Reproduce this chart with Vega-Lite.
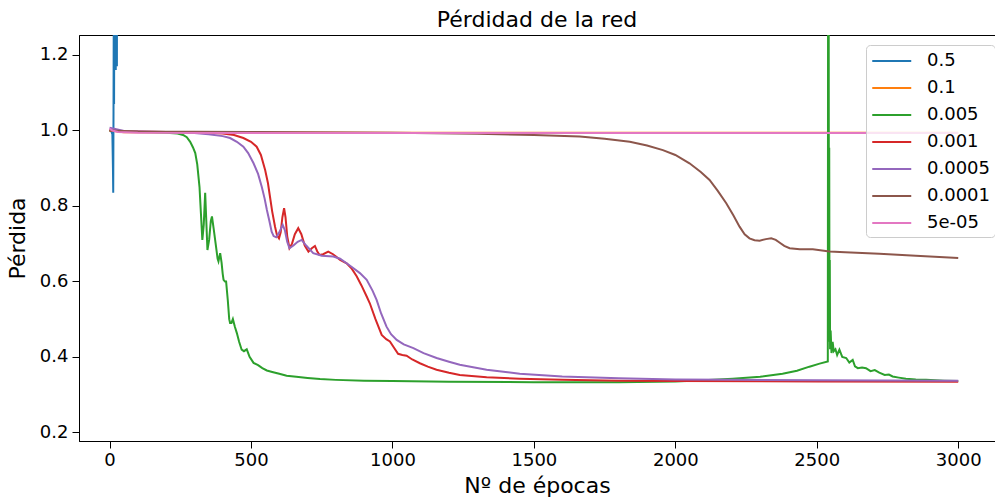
{
  "$schema": "https://vega.github.io/schema/vega-lite/v6.json",
  "width": 916,
  "height": 406,
  "autosize": {"type": "none"},
  "padding": {"left": 79, "top": 35, "right": 0, "bottom": 59},
  "background": "white",
  "config": {
    "font": "DejaVu Sans",
    "view": {"stroke": "black", "strokeWidth": 1},
    "axis": {"grid": false, "domainColor": "black", "tickColor": "black", "labelColor": "black", "titleColor": "black", "labelFont": "DejaVu Sans", "titleFont": "DejaVu Sans", "labelFontSize": 18, "titleFontSize": 22, "titleFontWeight": "normal", "tickSize": 7, "labelPadding": 3},
    "title": {"font": "DejaVu Sans", "fontSize": 22, "fontWeight": "normal", "color": "black", "offset": 3},
    "legend": {"labelFont": "DejaVu Sans", "labelFontSize": 18, "labelColor": "black"}
  },
  "title": {"text": "Pérdidad de la red", "anchor": "middle", "frame": "group"},
  "data": {"values": [
    {"lr": "0.5", "epoch": 0, "loss": 1.0},
    {"lr": "0.5", "epoch": 5, "loss": 1.0},
    {"lr": "0.5", "epoch": 10, "loss": 0.99},
    {"lr": "0.5", "epoch": 12, "loss": 0.9},
    {"lr": "0.5", "epoch": 13, "loss": 0.835},
    {"lr": "0.5", "epoch": 14, "loss": 1.05},
    {"lr": "0.5", "epoch": 15, "loss": 1.35},
    {"lr": "0.5", "epoch": 16, "loss": 1.07},
    {"lr": "0.5", "epoch": 17, "loss": 1.45},
    {"lr": "0.5", "epoch": 18, "loss": 1.2},
    {"lr": "0.5", "epoch": 19, "loss": 1.6},
    {"lr": "0.5", "epoch": 20, "loss": 1.3},
    {"lr": "0.5", "epoch": 21, "loss": 1.8},
    {"lr": "0.5", "epoch": 22, "loss": 1.16},
    {"lr": "0.5", "epoch": 23, "loss": 1.9},
    {"lr": "0.5", "epoch": 25, "loss": 1.5},
    {"lr": "0.5", "epoch": 26, "loss": 1.17},
    {"lr": "0.5", "epoch": 27, "loss": 2.0},
    {"lr": "0.5", "epoch": 28, "loss": 1.6},
    {"lr": "0.5", "epoch": 29, "loss": 2.5},
    {"lr": "0.5", "epoch": 30, "loss": 3.0},

    {"lr": "0.1", "epoch": 0, "loss": 1.0},
    {"lr": "0.1", "epoch": 50, "loss": 0.995},
    {"lr": "0.1", "epoch": 1000, "loss": 0.994},
    {"lr": "0.1", "epoch": 3000, "loss": 0.994},

    {"lr": "0.005", "epoch": 0, "loss": 1.0},
    {"lr": "0.005", "epoch": 50, "loss": 0.997},
    {"lr": "0.005", "epoch": 100, "loss": 0.996},
    {"lr": "0.005", "epoch": 150, "loss": 0.995},
    {"lr": "0.005", "epoch": 200, "loss": 0.994},
    {"lr": "0.005", "epoch": 240, "loss": 0.992},
    {"lr": "0.005", "epoch": 260, "loss": 0.988},
    {"lr": "0.005", "epoch": 273, "loss": 0.982},
    {"lr": "0.005", "epoch": 285, "loss": 0.97},
    {"lr": "0.005", "epoch": 295, "loss": 0.955},
    {"lr": "0.005", "epoch": 303, "loss": 0.94},
    {"lr": "0.005", "epoch": 310, "loss": 0.91},
    {"lr": "0.005", "epoch": 318, "loss": 0.85},
    {"lr": "0.005", "epoch": 323, "loss": 0.78},
    {"lr": "0.005", "epoch": 328, "loss": 0.71},
    {"lr": "0.005", "epoch": 333, "loss": 0.75},
    {"lr": "0.005", "epoch": 338, "loss": 0.835},
    {"lr": "0.005", "epoch": 342, "loss": 0.76},
    {"lr": "0.005", "epoch": 346, "loss": 0.683},
    {"lr": "0.005", "epoch": 352, "loss": 0.71},
    {"lr": "0.005", "epoch": 358, "loss": 0.76},
    {"lr": "0.005", "epoch": 362, "loss": 0.772},
    {"lr": "0.005", "epoch": 368, "loss": 0.74},
    {"lr": "0.005", "epoch": 375, "loss": 0.70},
    {"lr": "0.005", "epoch": 382, "loss": 0.66},
    {"lr": "0.005", "epoch": 385, "loss": 0.653},
    {"lr": "0.005", "epoch": 391, "loss": 0.675},
    {"lr": "0.005", "epoch": 396, "loss": 0.65},
    {"lr": "0.005", "epoch": 400, "loss": 0.62},
    {"lr": "0.005", "epoch": 403, "loss": 0.604},
    {"lr": "0.005", "epoch": 408, "loss": 0.60},
    {"lr": "0.005", "epoch": 412, "loss": 0.60},
    {"lr": "0.005", "epoch": 418, "loss": 0.55},
    {"lr": "0.005", "epoch": 423, "loss": 0.50},
    {"lr": "0.005", "epoch": 426, "loss": 0.49},
    {"lr": "0.005", "epoch": 431, "loss": 0.49},
    {"lr": "0.005", "epoch": 436, "loss": 0.50},
    {"lr": "0.005", "epoch": 443, "loss": 0.48},
    {"lr": "0.005", "epoch": 450, "loss": 0.463},
    {"lr": "0.005", "epoch": 458, "loss": 0.44},
    {"lr": "0.005", "epoch": 467, "loss": 0.419},
    {"lr": "0.005", "epoch": 475, "loss": 0.415},
    {"lr": "0.005", "epoch": 485, "loss": 0.42},
    {"lr": "0.005", "epoch": 495, "loss": 0.40},
    {"lr": "0.005", "epoch": 509, "loss": 0.384},
    {"lr": "0.005", "epoch": 525, "loss": 0.378},
    {"lr": "0.005", "epoch": 540, "loss": 0.37},
    {"lr": "0.005", "epoch": 556, "loss": 0.364},
    {"lr": "0.005", "epoch": 575, "loss": 0.36},
    {"lr": "0.005", "epoch": 600, "loss": 0.355},
    {"lr": "0.005", "epoch": 626, "loss": 0.35},
    {"lr": "0.005", "epoch": 660, "loss": 0.347},
    {"lr": "0.005", "epoch": 700, "loss": 0.344},
    {"lr": "0.005", "epoch": 744, "loss": 0.341},
    {"lr": "0.005", "epoch": 800, "loss": 0.339},
    {"lr": "0.005", "epoch": 900, "loss": 0.337},
    {"lr": "0.005", "epoch": 1000, "loss": 0.336},
    {"lr": "0.005", "epoch": 1200, "loss": 0.334},
    {"lr": "0.005", "epoch": 1500, "loss": 0.333},
    {"lr": "0.005", "epoch": 1800, "loss": 0.333},
    {"lr": "0.005", "epoch": 2000, "loss": 0.335},
    {"lr": "0.005", "epoch": 2100, "loss": 0.338},
    {"lr": "0.005", "epoch": 2203, "loss": 0.342},
    {"lr": "0.005", "epoch": 2300, "loss": 0.347},
    {"lr": "0.005", "epoch": 2379, "loss": 0.355},
    {"lr": "0.005", "epoch": 2430, "loss": 0.363},
    {"lr": "0.005", "epoch": 2474, "loss": 0.374},
    {"lr": "0.005", "epoch": 2510, "loss": 0.382},
    {"lr": "0.005", "epoch": 2539, "loss": 0.388},
    {"lr": "0.005", "epoch": 2541, "loss": 2.5},
    {"lr": "0.005", "epoch": 2543, "loss": 0.45},
    {"lr": "0.005", "epoch": 2544, "loss": 0.954},
    {"lr": "0.005", "epoch": 2545, "loss": 0.44},
    {"lr": "0.005", "epoch": 2546, "loss": 0.657},
    {"lr": "0.005", "epoch": 2547, "loss": 0.42},
    {"lr": "0.005", "epoch": 2549, "loss": 0.47},
    {"lr": "0.005", "epoch": 2552, "loss": 0.41},
    {"lr": "0.005", "epoch": 2556, "loss": 0.44},
    {"lr": "0.005", "epoch": 2560, "loss": 0.415},
    {"lr": "0.005", "epoch": 2566, "loss": 0.42},
    {"lr": "0.005", "epoch": 2572, "loss": 0.405},
    {"lr": "0.005", "epoch": 2580, "loss": 0.419},
    {"lr": "0.005", "epoch": 2590, "loss": 0.40},
    {"lr": "0.005", "epoch": 2604, "loss": 0.397},
    {"lr": "0.005", "epoch": 2615, "loss": 0.385},
    {"lr": "0.005", "epoch": 2627, "loss": 0.392},
    {"lr": "0.005", "epoch": 2635, "loss": 0.375},
    {"lr": "0.005", "epoch": 2645, "loss": 0.37},
    {"lr": "0.005", "epoch": 2660, "loss": 0.372},
    {"lr": "0.005", "epoch": 2674, "loss": 0.37},
    {"lr": "0.005", "epoch": 2690, "loss": 0.362},
    {"lr": "0.005", "epoch": 2705, "loss": 0.365},
    {"lr": "0.005", "epoch": 2721, "loss": 0.358},
    {"lr": "0.005", "epoch": 2740, "loss": 0.352},
    {"lr": "0.005", "epoch": 2755, "loss": 0.353},
    {"lr": "0.005", "epoch": 2768, "loss": 0.348},
    {"lr": "0.005", "epoch": 2790, "loss": 0.345},
    {"lr": "0.005", "epoch": 2815, "loss": 0.342},
    {"lr": "0.005", "epoch": 2850, "loss": 0.34},
    {"lr": "0.005", "epoch": 2886, "loss": 0.339},
    {"lr": "0.005", "epoch": 2950, "loss": 0.337},
    {"lr": "0.005", "epoch": 3000, "loss": 0.336},

    {"lr": "0.001", "epoch": 0, "loss": 1.0},
    {"lr": "0.001", "epoch": 50, "loss": 0.998},
    {"lr": "0.001", "epoch": 100, "loss": 0.997},
    {"lr": "0.001", "epoch": 200, "loss": 0.996},
    {"lr": "0.001", "epoch": 300, "loss": 0.995},
    {"lr": "0.001", "epoch": 400, "loss": 0.992},
    {"lr": "0.001", "epoch": 440, "loss": 0.988},
    {"lr": "0.001", "epoch": 473, "loss": 0.98},
    {"lr": "0.001", "epoch": 500, "loss": 0.97},
    {"lr": "0.001", "epoch": 520, "loss": 0.957},
    {"lr": "0.001", "epoch": 535, "loss": 0.935},
    {"lr": "0.001", "epoch": 550, "loss": 0.895},
    {"lr": "0.001", "epoch": 560, "loss": 0.86},
    {"lr": "0.001", "epoch": 567, "loss": 0.825},
    {"lr": "0.001", "epoch": 575, "loss": 0.785},
    {"lr": "0.001", "epoch": 585, "loss": 0.745},
    {"lr": "0.001", "epoch": 592, "loss": 0.722},
    {"lr": "0.001", "epoch": 599, "loss": 0.714},
    {"lr": "0.001", "epoch": 605, "loss": 0.73},
    {"lr": "0.001", "epoch": 611, "loss": 0.77},
    {"lr": "0.001", "epoch": 617, "loss": 0.794},
    {"lr": "0.001", "epoch": 622, "loss": 0.77},
    {"lr": "0.001", "epoch": 628, "loss": 0.72},
    {"lr": "0.001", "epoch": 636, "loss": 0.688},
    {"lr": "0.001", "epoch": 645, "loss": 0.70},
    {"lr": "0.001", "epoch": 655, "loss": 0.725},
    {"lr": "0.001", "epoch": 667, "loss": 0.741},
    {"lr": "0.001", "epoch": 678, "loss": 0.725},
    {"lr": "0.001", "epoch": 690, "loss": 0.695},
    {"lr": "0.001", "epoch": 703, "loss": 0.679},
    {"lr": "0.001", "epoch": 715, "loss": 0.688},
    {"lr": "0.001", "epoch": 726, "loss": 0.694},
    {"lr": "0.001", "epoch": 734, "loss": 0.68},
    {"lr": "0.001", "epoch": 742, "loss": 0.67},
    {"lr": "0.001", "epoch": 755, "loss": 0.672},
    {"lr": "0.001", "epoch": 773, "loss": 0.679},
    {"lr": "0.001", "epoch": 790, "loss": 0.672},
    {"lr": "0.001", "epoch": 815, "loss": 0.657},
    {"lr": "0.001", "epoch": 838, "loss": 0.648},
    {"lr": "0.001", "epoch": 855, "loss": 0.635},
    {"lr": "0.001", "epoch": 874, "loss": 0.613},
    {"lr": "0.001", "epoch": 890, "loss": 0.59},
    {"lr": "0.001", "epoch": 909, "loss": 0.56},
    {"lr": "0.001", "epoch": 920, "loss": 0.542},
    {"lr": "0.001", "epoch": 940, "loss": 0.50},
    {"lr": "0.001", "epoch": 962, "loss": 0.458},
    {"lr": "0.001", "epoch": 978, "loss": 0.447},
    {"lr": "0.001", "epoch": 991, "loss": 0.441},
    {"lr": "0.001", "epoch": 1005, "loss": 0.425},
    {"lr": "0.001", "epoch": 1020, "loss": 0.408},
    {"lr": "0.001", "epoch": 1035, "loss": 0.405},
    {"lr": "0.001", "epoch": 1050, "loss": 0.403},
    {"lr": "0.001", "epoch": 1070, "loss": 0.393},
    {"lr": "0.001", "epoch": 1097, "loss": 0.383},
    {"lr": "0.001", "epoch": 1125, "loss": 0.374},
    {"lr": "0.001", "epoch": 1156, "loss": 0.366},
    {"lr": "0.001", "epoch": 1200, "loss": 0.358},
    {"lr": "0.001", "epoch": 1238, "loss": 0.352},
    {"lr": "0.001", "epoch": 1333, "loss": 0.346},
    {"lr": "0.001", "epoch": 1450, "loss": 0.342},
    {"lr": "0.001", "epoch": 1600, "loss": 0.339},
    {"lr": "0.001", "epoch": 1800, "loss": 0.337},
    {"lr": "0.001", "epoch": 2000, "loss": 0.336},
    {"lr": "0.001", "epoch": 2500, "loss": 0.335},
    {"lr": "0.001", "epoch": 3000, "loss": 0.334},

    {"lr": "0.0005", "epoch": 0, "loss": 1.007},
    {"lr": "0.0005", "epoch": 20, "loss": 1.004},
    {"lr": "0.0005", "epoch": 55, "loss": 0.998},
    {"lr": "0.0005", "epoch": 100, "loss": 0.997},
    {"lr": "0.0005", "epoch": 200, "loss": 0.996},
    {"lr": "0.0005", "epoch": 300, "loss": 0.993},
    {"lr": "0.0005", "epoch": 350, "loss": 0.99},
    {"lr": "0.0005", "epoch": 400, "loss": 0.985},
    {"lr": "0.0005", "epoch": 426, "loss": 0.98},
    {"lr": "0.0005", "epoch": 450, "loss": 0.97},
    {"lr": "0.0005", "epoch": 473, "loss": 0.957},
    {"lr": "0.0005", "epoch": 490, "loss": 0.94},
    {"lr": "0.0005", "epoch": 509, "loss": 0.913},
    {"lr": "0.0005", "epoch": 525, "loss": 0.885},
    {"lr": "0.0005", "epoch": 538, "loss": 0.851},
    {"lr": "0.0005", "epoch": 548, "loss": 0.82},
    {"lr": "0.0005", "epoch": 556, "loss": 0.79},
    {"lr": "0.0005", "epoch": 565, "loss": 0.76},
    {"lr": "0.0005", "epoch": 573, "loss": 0.732},
    {"lr": "0.0005", "epoch": 580, "loss": 0.72},
    {"lr": "0.0005", "epoch": 589, "loss": 0.717},
    {"lr": "0.0005", "epoch": 600, "loss": 0.73},
    {"lr": "0.0005", "epoch": 612, "loss": 0.75},
    {"lr": "0.0005", "epoch": 620, "loss": 0.735},
    {"lr": "0.0005", "epoch": 628, "loss": 0.705},
    {"lr": "0.0005", "epoch": 636, "loss": 0.688},
    {"lr": "0.0005", "epoch": 650, "loss": 0.695},
    {"lr": "0.0005", "epoch": 665, "loss": 0.705},
    {"lr": "0.0005", "epoch": 679, "loss": 0.71},
    {"lr": "0.0005", "epoch": 695, "loss": 0.695},
    {"lr": "0.0005", "epoch": 720, "loss": 0.675},
    {"lr": "0.0005", "epoch": 750, "loss": 0.668},
    {"lr": "0.0005", "epoch": 791, "loss": 0.666},
    {"lr": "0.0005", "epoch": 815, "loss": 0.66},
    {"lr": "0.0005", "epoch": 838, "loss": 0.648},
    {"lr": "0.0005", "epoch": 860, "loss": 0.636},
    {"lr": "0.0005", "epoch": 885, "loss": 0.622},
    {"lr": "0.0005", "epoch": 909, "loss": 0.604},
    {"lr": "0.0005", "epoch": 930, "loss": 0.575},
    {"lr": "0.0005", "epoch": 944, "loss": 0.551},
    {"lr": "0.0005", "epoch": 960, "loss": 0.515},
    {"lr": "0.0005", "epoch": 979, "loss": 0.48},
    {"lr": "0.0005", "epoch": 995, "loss": 0.46},
    {"lr": "0.0005", "epoch": 1015, "loss": 0.445},
    {"lr": "0.0005", "epoch": 1040, "loss": 0.433},
    {"lr": "0.0005", "epoch": 1074, "loss": 0.423},
    {"lr": "0.0005", "epoch": 1110, "loss": 0.41},
    {"lr": "0.0005", "epoch": 1156, "loss": 0.397},
    {"lr": "0.0005", "epoch": 1200, "loss": 0.387},
    {"lr": "0.0005", "epoch": 1238, "loss": 0.379},
    {"lr": "0.0005", "epoch": 1290, "loss": 0.372},
    {"lr": "0.0005", "epoch": 1333, "loss": 0.366},
    {"lr": "0.0005", "epoch": 1400, "loss": 0.36},
    {"lr": "0.0005", "epoch": 1450, "loss": 0.355},
    {"lr": "0.0005", "epoch": 1600, "loss": 0.348},
    {"lr": "0.0005", "epoch": 1800, "loss": 0.343},
    {"lr": "0.0005", "epoch": 2000, "loss": 0.34},
    {"lr": "0.0005", "epoch": 2200, "loss": 0.339},
    {"lr": "0.0005", "epoch": 2500, "loss": 0.338},
    {"lr": "0.0005", "epoch": 3000, "loss": 0.337},

    {"lr": "0.0001", "epoch": 0, "loss": 1.0},
    {"lr": "0.0001", "epoch": 100, "loss": 0.997},
    {"lr": "0.0001", "epoch": 500, "loss": 0.996},
    {"lr": "0.0001", "epoch": 1000, "loss": 0.994},
    {"lr": "0.0001", "epoch": 1300, "loss": 0.991},
    {"lr": "0.0001", "epoch": 1500, "loss": 0.988},
    {"lr": "0.0001", "epoch": 1662, "loss": 0.984},
    {"lr": "0.0001", "epoch": 1750, "loss": 0.978},
    {"lr": "0.0001", "epoch": 1839, "loss": 0.97},
    {"lr": "0.0001", "epoch": 1900, "loss": 0.96},
    {"lr": "0.0001", "epoch": 1956, "loss": 0.948},
    {"lr": "0.0001", "epoch": 2000, "loss": 0.935},
    {"lr": "0.0001", "epoch": 2050, "loss": 0.913},
    {"lr": "0.0001", "epoch": 2090, "loss": 0.89},
    {"lr": "0.0001", "epoch": 2121, "loss": 0.869},
    {"lr": "0.0001", "epoch": 2150, "loss": 0.84},
    {"lr": "0.0001", "epoch": 2180, "loss": 0.807},
    {"lr": "0.0001", "epoch": 2205, "loss": 0.775},
    {"lr": "0.0001", "epoch": 2227, "loss": 0.745},
    {"lr": "0.0001", "epoch": 2245, "loss": 0.725},
    {"lr": "0.0001", "epoch": 2262, "loss": 0.714},
    {"lr": "0.0001", "epoch": 2280, "loss": 0.709},
    {"lr": "0.0001", "epoch": 2298, "loss": 0.708},
    {"lr": "0.0001", "epoch": 2320, "loss": 0.712},
    {"lr": "0.0001", "epoch": 2339, "loss": 0.714},
    {"lr": "0.0001", "epoch": 2355, "loss": 0.71},
    {"lr": "0.0001", "epoch": 2368, "loss": 0.703},
    {"lr": "0.0001", "epoch": 2385, "loss": 0.694},
    {"lr": "0.0001", "epoch": 2404, "loss": 0.688},
    {"lr": "0.0001", "epoch": 2440, "loss": 0.685},
    {"lr": "0.0001", "epoch": 2486, "loss": 0.685},
    {"lr": "0.0001", "epoch": 2545, "loss": 0.679},
    {"lr": "0.0001", "epoch": 2600, "loss": 0.677},
    {"lr": "0.0001", "epoch": 2721, "loss": 0.673},
    {"lr": "0.0001", "epoch": 2850, "loss": 0.668},
    {"lr": "0.0001", "epoch": 3000, "loss": 0.662},

    {"lr": "5e-05", "epoch": 0, "loss": 1.005},
    {"lr": "5e-05", "epoch": 10, "loss": 1.0},
    {"lr": "5e-05", "epoch": 30, "loss": 0.996},
    {"lr": "5e-05", "epoch": 100, "loss": 0.994},
    {"lr": "5e-05", "epoch": 500, "loss": 0.993},
    {"lr": "5e-05", "epoch": 1500, "loss": 0.993},
    {"lr": "5e-05", "epoch": 3000, "loss": 0.993}
  ]},
  "mark": {"type": "line", "strokeWidth": 2, "clip": true},
  "encoding": {
    "x": {"field": "epoch", "type": "quantitative", "scale": {"domain": [-108, 3130], "nice": false, "zero": false},
      "axis": {"title": "Nº de épocas", "values": [0, 500, 1000, 1500, 2000, 2500, 3000], "format": "d", "titlePadding": 6}},
    "y": {"field": "loss", "type": "quantitative", "scale": {"domain": [0.177, 1.253], "nice": false, "zero": false},
      "axis": {"title": "Pérdida", "values": [0.2, 0.4, 0.6, 0.8, 1.0, 1.2], "format": ".1f", "labelPadding": 4, "titlePadding": 10}},
    "color": {"field": "lr", "type": "nominal", "sort": ["0.5", "0.1", "0.005", "0.001", "0.0005", "0.0001", "5e-05"],
      "scale": {"domain": ["0.5", "0.1", "0.005", "0.001", "0.0005", "0.0001", "5e-05"], "range": ["#1f77b4", "#ff7f0e", "#2ca02c", "#d62728", "#9467bd", "#8c564b", "#e377c2"]},
      "legend": {"title": null, "orient": "none", "legendX": 787, "legendY": 10, "symbolType": "M-1,0H3", "symbolSize": 380, "symbolStrokeWidth": 2, "labelOffset": 34, "rowPadding": 7, "padding": 5, "fillColor": "rgba(255,255,255,0.8)", "strokeColor": "#cccccc", "cornerRadius": 4}}
  }
}
